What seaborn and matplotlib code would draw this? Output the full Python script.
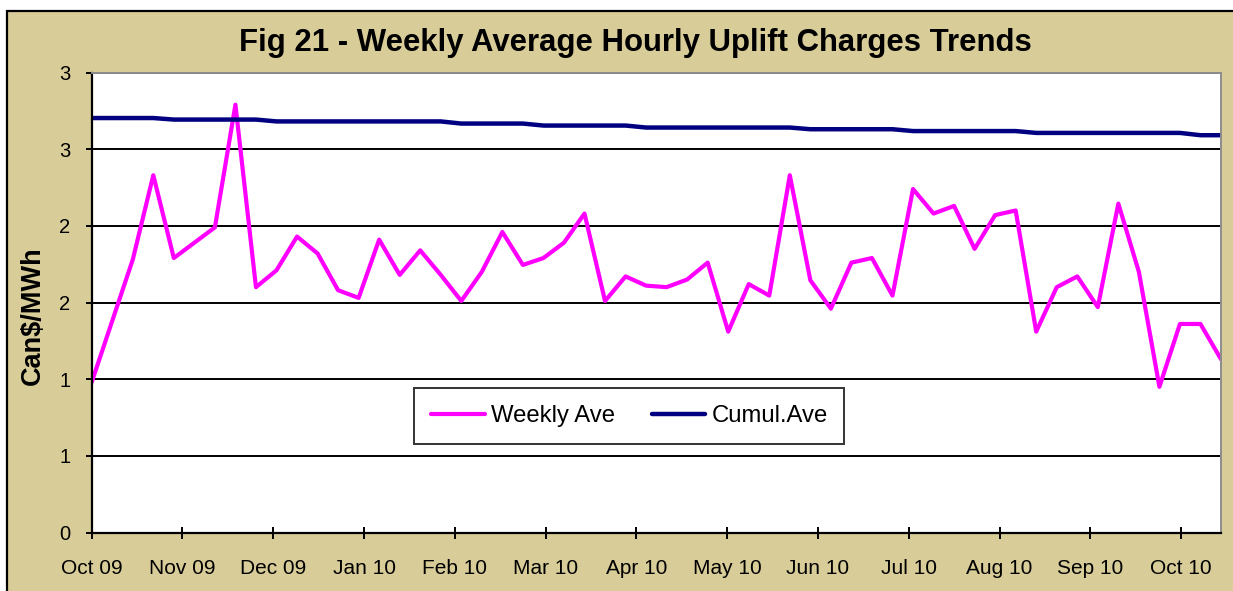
import numpy as np
import pandas as pd
import matplotlib
matplotlib.use("Agg")
import matplotlib.pyplot as plt
from matplotlib.patches import Rectangle
import seaborn as sns

# Weekly values (Can$/MWh), one per week from Oct 09
weekly_ave = [
    0.98, 1.38, 1.78, 2.33, 1.79, 1.89, 1.99, 2.79, 1.60, 1.71,
    1.93, 1.82, 1.58, 1.53, 1.91, 1.68, 1.84, 1.68, 1.51, 1.70,
    1.96, 1.745, 1.79, 1.89, 2.08, 1.51, 1.67, 1.61, 1.60, 1.65,
    1.76, 1.31, 1.62, 1.545, 2.33, 1.645, 1.46, 1.76, 1.79, 1.545,
    2.24, 2.08, 2.13, 1.85, 2.07, 2.10, 1.31, 1.60, 1.67, 1.47,
    2.145, 1.70, 0.95, 1.36, 1.36, 1.13,
]
cumul_ave = [
    2.703, 2.703, 2.703, 2.703, 2.693, 2.693, 2.693, 2.693, 2.693, 2.681,
    2.681, 2.681, 2.681, 2.681, 2.681, 2.681, 2.681, 2.681, 2.667, 2.667,
    2.667, 2.667, 2.654, 2.654, 2.654, 2.654, 2.654, 2.641, 2.641, 2.641,
    2.641, 2.641, 2.641, 2.641, 2.641, 2.630, 2.630, 2.630, 2.630, 2.630,
    2.618, 2.618, 2.618, 2.618, 2.618, 2.618, 2.606, 2.606, 2.606, 2.606,
    2.606, 2.606, 2.606, 2.606, 2.591, 2.591,
]
month_labels = ["Oct 09", "Nov 09", "Dec 09", "Jan 10", "Feb 10", "Mar 10", "Apr 10",
                "May 10", "Jun 10", "Jul 10", "Aug 10", "Sep 10", "Oct 10"]
y_ticks = [0, 0.5, 1.0, 1.5, 2.0, 2.5, 3.0]
y_tick_labels = ["0", "1", "1", "2", "2", "3", "3"]

df = pd.DataFrame({"week": np.arange(len(weekly_ave)),
                   "Weekly Ave": weekly_ave, "Cumul.Ave": cumul_ave})

sns.set_theme(style="white")
plt.rcParams["font.family"] = ["Liberation Sans", "DejaVu Sans"]
plt.rcParams["text.color"] = "black"
plt.rcParams["xtick.color"] = "black"
plt.rcParams["ytick.color"] = "black"
plt.rcParams["axes.labelcolor"] = "black"

TAN = "#D8CC98"
fig = plt.figure(figsize=(12.33, 5.91), dpi=100)
fig.patch.set_facecolor("white")
fig.patches.append(Rectangle((6.5 / 1233, -0.05), 1.1, 0.05 + 580 / 591,
                             transform=fig.transFigure, facecolor=TAN,
                             edgecolor="black", linewidth=1.6, zorder=-1))

ax = fig.add_axes([91.7 / 1233, 58.5 / 591, (1221 - 91.7) / 1233, 460 / 591])
ax.set_zorder(2)
ax.set_facecolor("white")

sns.lineplot(data=df, x="week", y="Weekly Ave", color="#FF00FF", lw=3,
             label="Weekly Ave", ax=ax)
sns.lineplot(data=df, x="week", y="Cumul.Ave", color="#000080", lw=3.2,
             label="Cumul.Ave", ax=ax)

ax.set_xlim(0, len(weekly_ave) - 1)
ax.set_ylim(0, 3)
ax.set_yticks(y_ticks)
ax.set_yticklabels(y_tick_labels)
ax.set_xticks(np.linspace(0, 53.06, len(month_labels)))
ax.set_xticklabels(month_labels)
for y in y_ticks[1:]:
    ax.axhline(y, color="black", lw=1.4, zorder=1)

ax.tick_params(axis="x", direction="inout", length=8, width=1.4, color="black",
               pad=15, labelsize=15, bottom=True)
ax.tick_params(axis="y", direction="out", length=4.5, width=1.4, color="black",
               pad=11, labelsize=14.5, left=True)
for side in ["left", "bottom"]:
    ax.spines[side].set_color("black")
    ax.spines[side].set_linewidth(1.6)
for side in ["top", "right"]:
    ax.spines[side].set_color("#8c8c8c")
    ax.spines[side].set_linewidth(1.4)

ax.set_xlabel("")
ax.set_ylabel("Can$/MWh", fontsize=19.5, fontweight="bold")
ax.yaxis.set_label_coords(-0.0405, 0.471)

leg = ax.legend(loc="center", bbox_to_anchor=(0.476, 0.253), ncol=2,
                fontsize=17.2, frameon=True, fancybox=False, handlelength=2.25,
                handletextpad=0.25, columnspacing=1.55, borderpad=0.7)
leg.get_frame().set_edgecolor("black")
leg.get_frame().set_linewidth(1.4)

fig.text(635 / 1233, 1 - 43 / 591, "Fig 21 - Weekly Average Hourly Uplift Charges Trends",
         ha="center", va="center", fontsize=22.4, fontweight="bold")

fig.savefig("out.png", dpi=100, facecolor=fig.get_facecolor())
